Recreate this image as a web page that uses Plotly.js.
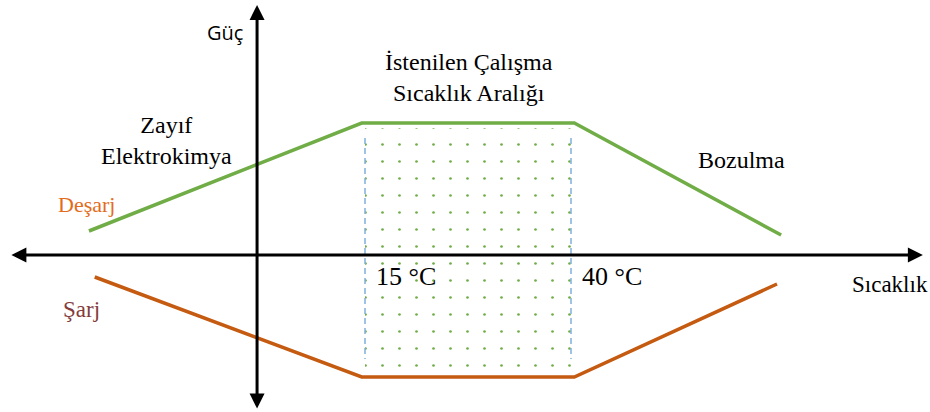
<!DOCTYPE html>
<html>
<head>
<meta charset="utf-8">
<script src="https://cdn.plot.ly/plotly-3.0.1.min.js"></script>
<style>
  html, body { margin: 0; padding: 0; background: #ffffff; }
  #chart { width: 930px; height: 412px; }
</style>
</head>
<body>
<div id="chart"></div>
<script>
// ---- data (schematic units: x = temperature °C, y = relative power) ----
const desarjTemp  = [-18.5, 14.6, 40.4, 65.5];
const desarjPower = [2.4, 13.2, 13.2, 2.0];
const sarjTemp    = [-17.8, 14.6, 40.4, 65.0];
const sarjPower   = [-2.2, -12.2, -12.2, -2.9];
const rangeTemps  = [15, 40];          // istenilen çalışma aralığı
const rangePower  = [12.7, -11.6];     // dotted band top / bottom
const dashPower   = [11.7, -10.4];     // dashed boundary lines
const xAxisSpan   = [-28.1, 82.7];
const yAxisSpan   = [-15.5, 25.0];
const yAxisTemp   = 1.9;
const tickLabels  = ['15 °C', '40 °C'];

// ---- layout helpers ----
const W = 930, H = 412;
const xRange = [-29.296, 83.568];
const yRange = [-15.7, 25.5];
const px = v => v / W;
const py = v => 1 - v / H;

const serif = '"Liberation Serif", "Times New Roman", serif';
const traces = [
  {
    x: [rangeTemps[0], rangeTemps[1], rangeTemps[1], rangeTemps[0], rangeTemps[0]],
    y: [rangePower[0], rangePower[0], rangePower[1], rangePower[1], rangePower[0]],
    mode: 'lines', fill: 'toself', line: {width: 0, color: 'rgba(0,0,0,0)'},
    fillcolor: 'rgba(0,0,0,0)',
    fillpattern: {shape: '.', fgcolor: '#70ad47', bgcolor: 'rgba(0,0,0,0)', size: 17, solidity: 0.02},
    hoverinfo: 'skip', showlegend: false
  },
  {
    x: [rangeTemps[0], rangeTemps[0], null, rangeTemps[1], rangeTemps[1]],
    y: [dashPower[0], dashPower[1], null, dashPower[0], dashPower[1]],
    mode: 'lines', line: {color: '#7fb0dc', width: 1.5, dash: '6px,4px'},
    hoverinfo: 'skip', showlegend: false
  },
  {
    x: desarjTemp, y: desarjPower, mode: 'lines', name: 'Deşarj',
    line: {color: '#70ad47', width: 3.5}, showlegend: false
  },
  {
    x: sarjTemp, y: sarjPower, mode: 'lines', name: 'Şarj',
    line: {color: '#c55a11', width: 3.5}, showlegend: false
  }
];

function txt(text, x, y, size, color, family) {
  return {
    text: text, xref: 'paper', yref: 'paper', x: px(x), y: py(y),
    xanchor: 'center', yanchor: 'middle', showarrow: false, align: 'center',
    font: {family: family || serif, size: size, color: color || '#000000'}
  };
}

const annotations = [
  // horizontal axis (double arrow)
  {x: xAxisSpan[1], y: 0, ax: xAxisSpan[0], ay: 0, xref: 'x', yref: 'y', axref: 'x', ayref: 'y',
   text: '', showarrow: true, arrowside: 'end+start', arrowhead: 2, startarrowhead: 2,
   arrowsize: 1, startarrowsize: 1, arrowwidth: 3, arrowcolor: '#000000'},
  // vertical axis (double arrow)
  {x: yAxisTemp, y: yAxisSpan[1], ax: yAxisTemp, ay: yAxisSpan[0], xref: 'x', yref: 'y', axref: 'x', ayref: 'y',
   text: '', showarrow: true, arrowside: 'end+start', arrowhead: 2, startarrowhead: 2,
   arrowsize: 1, startarrowsize: 1, arrowwidth: 3, arrowcolor: '#000000'},
  txt('Güç', 225, 33, 20, '#000000', '"Open Sans", "Noto Sans", sans-serif'),
  txt('İstenilen Çalışma<br>Sıcaklık Aralığı', 469, 77, 24),
  txt('Zayıf<br>Elektrokimya', 166, 140, 24),
  txt('Bozulma', 741, 160, 24),
  txt('Deşarj', 86, 204, 22, '#e36c1c'),
  txt('Şarj', 81, 309, 23, '#843c3c'),
  txt(tickLabels[0], 406, 276, 26),
  txt(tickLabels[1], 612, 276, 26),
  txt('Sıcaklık', 890, 284, 23)
];

const layout = {
  width: W, height: H,
  margin: {l: 0, r: 0, t: 0, b: 0, pad: 0},
  paper_bgcolor: '#ffffff', plot_bgcolor: '#ffffff',
  xaxis: {range: xRange, visible: false, fixedrange: true},
  yaxis: {range: yRange, visible: false, fixedrange: true},
  showlegend: false,
  annotations: annotations
};

Plotly.newPlot('chart', traces, layout, {staticPlot: true, displayModeBar: false});
</script>
</body>
</html>
